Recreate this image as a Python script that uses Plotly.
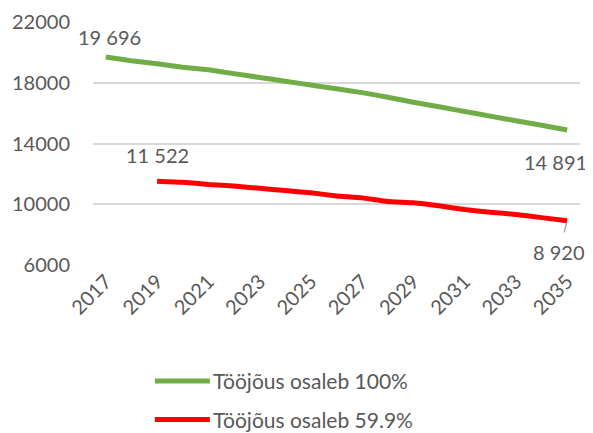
import plotly.graph_objects as go

years = [str(y) for y in range(2017, 2036)]
green_vals = [19696, 19450, 19250, 19020, 18850, 18600, 18350, 18100, 17850, 17600,
              17350, 17050, 16720, 16420, 16110, 15800, 15500, 15200, 14891]
red_years = [str(y) for y in range(2019, 2036)]
red_vals = [11522, 11450, 11300, 11200, 11050, 10900, 10750, 10550, 10420, 10180,
            10100, 9900, 9650, 9480, 9320, 9120, 8920]
tick_years = [str(y) for y in range(2017, 2036, 2)]
y_ticks = [6000, 10000, 14000, 18000, 22000]
green_name = "Tööjõus osaleb 100%"
red_name = "Tööjõus osaleb 59.9%"

FONT = "Lato"
GRAY = "#595959"
GREEN = "#70AD47"
RED = "#FF0000"
FS = 20

def fmt(v):
    return f"{v:,}".replace(",", " ")

fig = go.Figure()
fig.add_trace(go.Scatter(x=years, y=green_vals, mode="lines", name=green_name,
                         line=dict(color=GREEN, width=5, shape="spline", smoothing=0.4),
                         showlegend=False))
fig.add_trace(go.Scatter(x=red_years, y=red_vals, mode="lines", name=red_name,
                         line=dict(color=RED, width=5, shape="spline", smoothing=0.4),
                         showlegend=False))

afont = dict(family=FONT, size=FS, color=GRAY)
fig.add_annotation(x=0, y=green_vals[0], text=fmt(green_vals[0]), showarrow=False,
                   yshift=20, xshift=4, font=afont)
fig.add_annotation(x=18, y=green_vals[-1], text=fmt(green_vals[-1]), showarrow=False,
                   yshift=-32, xshift=22, xanchor="right", font=afont)
fig.add_annotation(x=2, y=red_vals[0], text=fmt(red_vals[0]), showarrow=False,
                   yshift=26, font=afont)
fig.add_annotation(x=18, y=red_vals[-1], text=fmt(red_vals[-1]), showarrow=True,
                   arrowhead=0, arrowcolor="#A6A6A6", arrowwidth=1.5, ax=-8, ay=31,
                   standoff=2, startstandoff=6, font=afont)

# legend drawn manually (line sample + label)
leg_items = [(green_name, GREEN, -0.477), (red_name, RED, -0.636)]
for name, col, yp in leg_items:
    fig.add_shape(type="line", xref="paper", yref="paper", x0=0.127, x1=0.240,
                  y0=yp, y1=yp, line=dict(color=col, width=5))
    fig.add_annotation(xref="paper", yref="paper", x=0.243, y=yp, text=name,
                       showarrow=False, xanchor="left", yanchor="middle",
                       font=dict(family=FONT, size=21, color=GRAY))

fig.update_layout(
    width=585, height=425,
    margin=dict(l=85, r=13, t=14, b=168, autoexpand=False),
    paper_bgcolor="white", plot_bgcolor="white",
    font=dict(family=FONT, size=FS, color=GRAY),
    showlegend=False,
)
fig.update_xaxes(type="category", range=[-0.5, 18.5], tickmode="array", tickvals=tick_years,
                 tickangle=-45, showgrid=False, zeroline=False, ticks="",
                 tickfont=dict(family=FONT, size=FS, color=GRAY))
fig.update_yaxes(range=[6000, 22000], tickvals=y_ticks, tickformat="d", showgrid=True,
                 gridcolor="#D9D9D9", gridwidth=1.5, zeroline=False,
                 ticks="outside", ticklen=18, tickcolor="rgba(0,0,0,0)",
                 tickfont=dict(family=FONT, size=FS, color=GRAY))

fig.write_html("out.html")
